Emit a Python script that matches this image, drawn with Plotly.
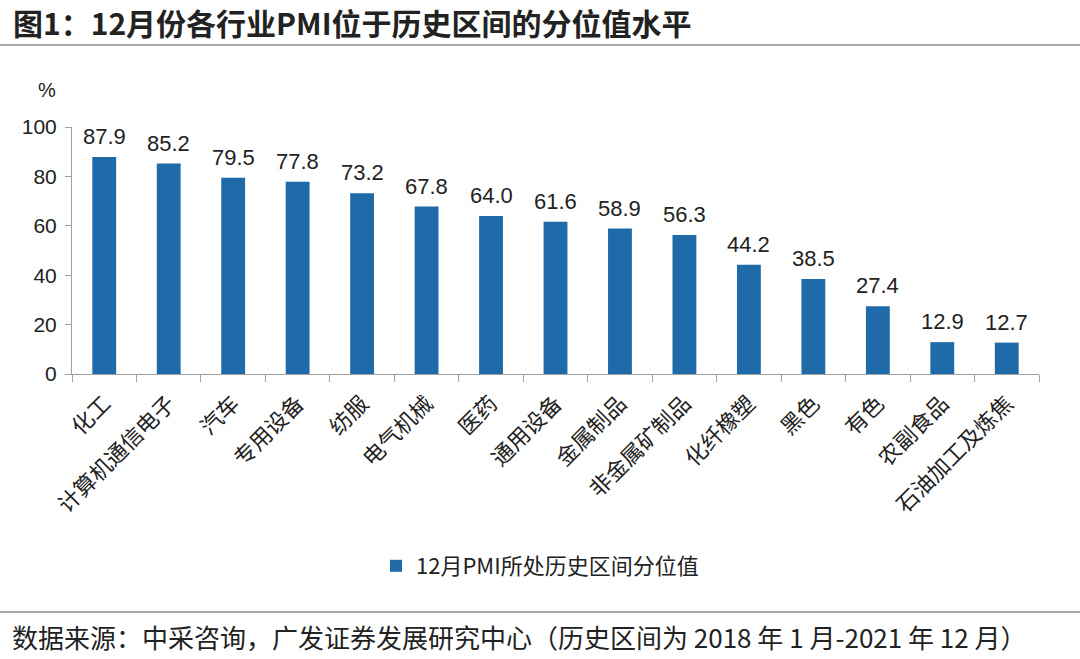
import plotly.graph_objects as go

categories = ["化工", "计算机通信电子", "汽车", "专用设备", "纺服", "电气机械", "医药", "通用设备",
              "金属制品", "非金属矿制品", "化纤橡塑", "黑色", "有色", "农副食品", "石油加工及炼焦"]
values = [87.9, 85.2, 79.5, 77.8, 73.2, 67.8, 64.0, 61.6, 58.9, 56.3, 44.2, 38.5, 27.4, 12.9, 12.7]
series_name = "12月PMI所处历史区间分位值"
y_ticks = [0, 20, 40, 60, 80, 100]

BAR = "#1F6AA8"
AX = "#A0A0A0"
FONT = "Liberation Sans, Noto Sans CJK SC, sans-serif"

fig = go.Figure()
fig.add_trace(go.Bar(
    x=categories, y=values, name=series_name,
    marker=dict(color=BAR, line=dict(width=0)),
    width=0.37,
))

# value labels above bars
for c, v in zip(categories, values):
    fig.add_annotation(x=c, y=v, text=f"{v:.1f}", showarrow=False,
                       yanchor="bottom", yshift=6,
                       font=dict(size=22, family=FONT, color="#222222"))

plot_l, plot_r, plot_t, plot_b = 72, 1039, 127, 374
def px(xp):
    return (xp - plot_l) / (plot_r - plot_l)
def py(yp):
    return (plot_b - yp) / (plot_b - plot_t)

fig.update_layout(
    width=1080, height=659,
    margin=dict(l=plot_l, r=1080 - plot_r, t=plot_t, b=659 - plot_b),
    plot_bgcolor="white", paper_bgcolor="white",
    font=dict(family=FONT, color="#222222"),
    showlegend=True,
    legend=dict(orientation="h", xref="container", yref="container",
                x=0.5, y=1 - 566 / 659, xanchor="center", yanchor="middle",
                font=dict(size=22, family="Noto Sans CJK SC", color="#222222"),
                itemwidth=30),
)
fig.update_xaxes(
    type="category", showline=True, linecolor=AX, linewidth=1,
    ticks="outside", tickson="boundaries", ticklen=7, tickcolor=AX,
    tickangle=-45, tickfont=dict(size=22, family="Noto Sans CJK SC", color="#222222"),
    ticklabelstandoff=7, showgrid=False,
)
fig.update_yaxes(
    range=[0, 100], tickvals=y_ticks, showline=True, linecolor=AX, linewidth=1,
    ticks="outside", ticklen=6, tickcolor=AX, showgrid=False, zeroline=False,
    tickfont=dict(size=21, family=FONT, color="#222222"),
    ticklabelstandoff=4,
)

fig.add_annotation(text="<b>图1：12月份各行业PMI位于历史区间的分位值水平</b>",
                   xref="paper", yref="paper", x=px(11), y=py(22), showarrow=False,
                   xanchor="left", yanchor="middle",
                   font=dict(size=30, family="Noto Sans CJK SC", color="#222222"))
fig.add_annotation(text="%", xref="paper", yref="paper", x=px(36), y=py(90), showarrow=False,
                   yanchor="middle",
                   font=dict(size=20, family=FONT, color="#222222"))
fig.add_annotation(text="数据来源：中采咨询，广发证券发展研究中心（历史区间为 2018 年 1 月-2021 年 12 月）",
                   xref="paper", yref="paper", x=px(10), y=py(636), showarrow=False,
                   xanchor="left", yanchor="middle",
                   font=dict(size=26, family="Noto Sans CJK SC", color="#222222"))

fig.add_shape(type="line", xref="paper", yref="paper", x0=px(0), x1=px(1080), y0=py(45), y1=py(45),
              line=dict(color="#8C8C8C", width=1.5))
fig.add_shape(type="line", xref="paper", yref="paper", x0=px(0), x1=px(1080), y0=py(612), y1=py(612),
              line=dict(color="#8C8C8C", width=1.5))

fig.write_html("out.html", config={"displayModeBar": False},
               post_script="document.body.style.margin='0';document.body.style.padding='0';")
